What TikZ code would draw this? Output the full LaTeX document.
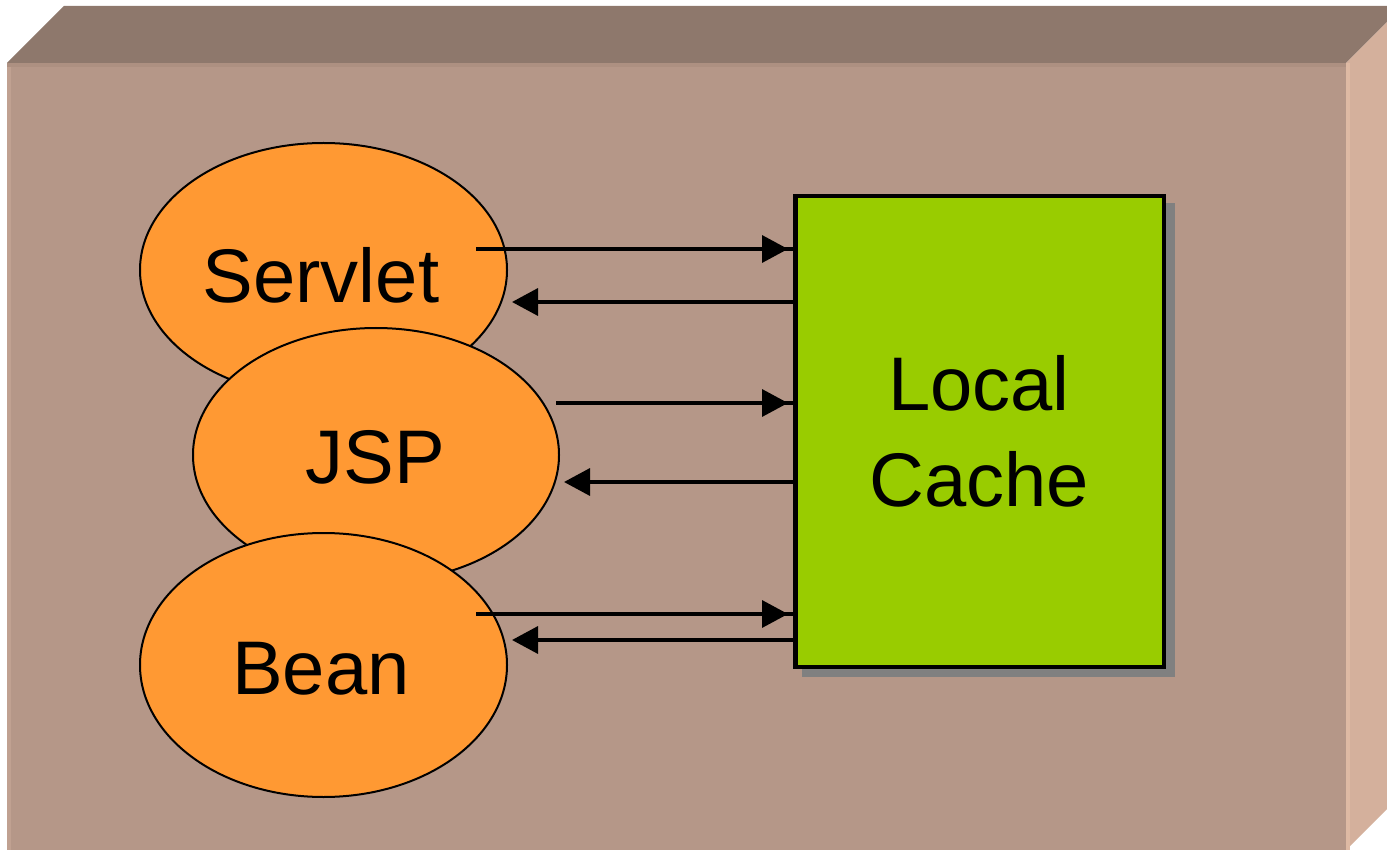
\documentclass[tikz,border=0pt]{standalone}
\usepackage{fontspec}
\setmainfont{Liberation Sans}
\usetikzlibrary{shapes.geometric,arrows.meta}
\definecolor{topface}{RGB}{142,120,108}
\definecolor{frontface}{RGB}{181,151,136}
\definecolor{sideface}{RGB}{212,176,156}
\definecolor{frontedge}{RGB}{173,144,129}
\definecolor{leftedge}{RGB}{192,161,145}
\definecolor{sideedge}{RGB}{222,186,164}
\definecolor{orangefill}{RGB}{255,153,51}
\definecolor{cachegreen}{RGB}{153,204,0}
\definecolor{shadowgray}{RGB}{128,128,128}
\tikzset{
  comp/.style={ellipse, draw=black, line width=2pt, fill=orangefill, inner sep=0pt},
  cachebox/.style={rectangle, draw=black, line width=4.5pt, fill=cachegreen, inner sep=0pt},
  lbl/.style={anchor=base, inner sep=0pt, font=\fontsize{76}{96}\selectfont},
  conn/.style={draw=black, line width=3.5pt},
  tip/.style={-{Triangle[length=26pt,width=27pt]}},
}
\begin{document}
\begin{tikzpicture}[x=1pt,y=-1pt]
\useasboundingbox (0,0) rectangle (1387,850);
\begin{scope}
\clip (0,0) rectangle (1387,850);
% 3D box
\fill[topface] (7,63) -- (64,6) -- (1403,6) -- (1346,63) -- cycle;
\fill[sideface] (1346,63) -- (1403,6) -- (1403,793) -- (1346,850) -- cycle;
\fill[frontface] (7,63) rectangle (1346,850);
\fill[frontedge] (7,63) rectangle (1346,67);
\fill[leftedge] (7,67) rectangle (11,850);
\fill[sideedge] (1346,63) rectangle (1350,850);
\end{scope}
% ellipses
\node[comp, minimum width=367pt, minimum height=254pt] (servlet) at (323.5,270) {};
\node[comp, minimum width=366pt, minimum height=254pt] (jsp) at (376,455) {};
\node[comp, minimum width=367pt, minimum height=264pt] (bean) at (323.5,665) {};
\node[lbl] (tservlet) at (321,303) {Servlet};
\node[lbl] (tjsp) at (375,483) {JSP};
\node[lbl] (tbean) at (321,694) {Bean};
% cache box
\fill[shadowgray] (802,203) rectangle (1175,677);
\node[cachebox, minimum width=368.5pt, minimum height=470.5pt] (cache) at (979.5,431.5) {};
\node[lbl] (tlocal) at (979,410) {Local};
\node[lbl] (tcache) at (979,506) {Cache};
% connector end points
\coordinate (s1) at (476,249);
\coordinate (t2) at (512,302);
\coordinate (s3) at (556,403);
\coordinate (t4) at (564,482);
\coordinate (s5) at (476,614);
\coordinate (t6) at (512,640);
% requests
\foreach \s in {s1,s3,s5}{
  \draw[conn] (\s) -- (\s -| cache.west);
  \draw[conn, tip, shorten >=5pt] (\s) -- (\s -| cache.west);
}
% responses
\foreach \t in {t2,t4,t6}{
  \draw[conn, tip] (\t -| cache.west) -- (\t);
}
\end{tikzpicture}
\end{document}
